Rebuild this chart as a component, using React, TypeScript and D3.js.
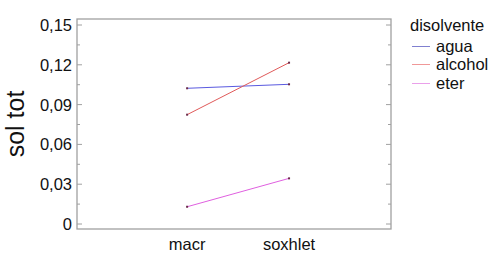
import React from "react";
import * as d3 from "d3";

const categories = ["macr", "soxhlet"];
const seriesNames = ["agua", "alcohol", "eter"];
const agua = [0.1023, 0.1053];
const alcohol = [0.0824, 0.1216];
const eter = [0.013, 0.0344];
const yTicks = [0, 0.03, 0.06, 0.09, 0.12, 0.15];
const yTickLabels = ["0", "0,03", "0,06", "0,09", "0,12", "0,15"];
const minorTicks = [0.015, 0.045, 0.075, 0.105, 0.135];
const colors = ["#5a5ae0", "#e05a5a", "#e060e0"];
const legendColors = ["#8080d0", "#f09898", "#eaa0ea"];

const W = 497;
const H = 257;
const plot = { left: 77, right: 391, top: 19, bottom: 229 };

export default function App() {
  const x = d3.scaleLinear().domain([-1.08, 2.0]).range([plot.left, plot.right]);
  const y = d3.scaleLinear().domain([0, 0.15]).range([224, 25]);
  const series = [agua, alcohol, eter];
  const line = d3
    .line<number>()
    .x((_, i) => x(i))
    .y((d) => y(d));
  const font = "Arial, 'Liberation Sans', sans-serif";
  const axisColor = "#a0a0a0";
  const fs = 16.5;
  const legendY = (k: number) => 45.5 + k * 18.5;
  return (
    <svg
      width={W}
      height={H}
      style={{ position: "absolute", left: 0, top: 0, background: "#fff" }}
      fontFamily={font}
    >
      <rect
        x={plot.left}
        y={plot.top}
        width={plot.right - plot.left}
        height={plot.bottom - plot.top}
        fill="none"
        stroke={axisColor}
        strokeWidth={1.3}
      />
      {yTicks.map((t, i) => (
        <g key={"t" + i}>
          <line x1={plot.left} x2={plot.left + 5} y1={y(t)} y2={y(t)} stroke={axisColor} />
          <line x1={plot.right - 5} x2={plot.right} y1={y(t)} y2={y(t)} stroke={axisColor} />
          <text
            x={plot.left - 5}
            y={y(t)}
            textAnchor="end"
            dominantBaseline="central"
            fontSize={fs}
            fill="#111"
          >
            {yTickLabels[i]}
          </text>
        </g>
      ))}
      {minorTicks.map((t, i) => (
        <g key={"m" + i}>
          <line x1={plot.left} x2={plot.left + 3} y1={y(t)} y2={y(t)} stroke={axisColor} />
          <line x1={plot.right - 3} x2={plot.right} y1={y(t)} y2={y(t)} stroke={axisColor} />
        </g>
      ))}
      {categories.map((c, i) => (
        <text key={c} x={x(i)} y={250} textAnchor="middle" fontSize={fs} fill="#111">
          {c}
        </text>
      ))}
      <text
        transform={`translate(24, 124) rotate(-90)`}
        textAnchor="middle"
        fontSize={25}
        fill="#111"
      >
        sol tot
      </text>
      {series.map((s, k) => (
        <g key={"s" + k}>
          <path d={line(s) || ""} fill="none" stroke={colors[k]} strokeWidth={1} />
          {s.map((v, i) => (
            <rect key={i} x={x(i) - 1} y={y(v) - 1} width={2} height={2} fill="#6a2a4a" />
          ))}
        </g>
      ))}
      <text x={410} y={31} fontSize={fs} fill="#111">
        disolvente
      </text>
      {seriesNames.map((n, k) => (
        <g key={n}>
          <line
            x1={412}
            x2={430}
            y1={Math.round(legendY(k)) + 0.5}
            y2={Math.round(legendY(k)) + 0.5}
            stroke={legendColors[k]}
            strokeWidth={1}
          />
          <text x={436} y={legendY(k)} dominantBaseline="central" fontSize={fs} fill="#111">
            {n}
          </text>
        </g>
      ))}
    </svg>
  );
}
